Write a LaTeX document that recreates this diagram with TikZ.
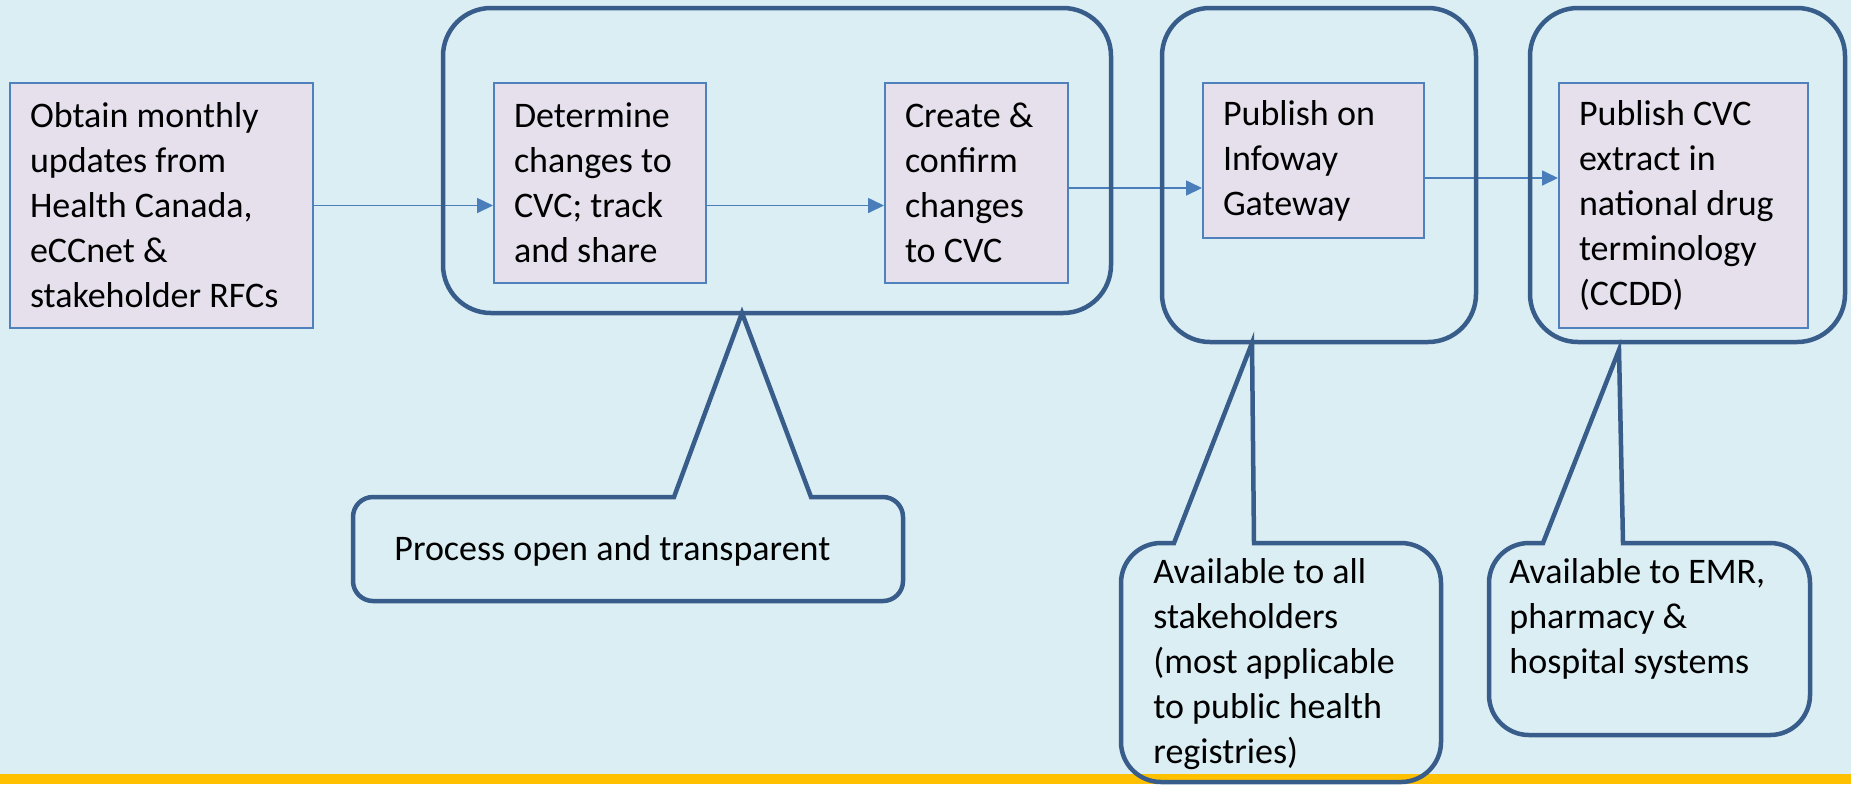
\documentclass[tikz,border=0pt]{standalone}
\usepackage{fontspec}
\setmainfont{Carlito}
\usetikzlibrary{arrows.meta}
\definecolor{bgc}{HTML}{DBEEF4}
\definecolor{boxfill}{HTML}{E5E0EC}
\definecolor{boxline}{HTML}{4F81BD}
\definecolor{grpline}{HTML}{385D8A}
\definecolor{arrc}{HTML}{4A7EBB}
\definecolor{barc}{HTML}{FFC000}
\begin{document}
\begin{tikzpicture}[x=0.5pt,y=0.5pt,
  stepbox/.style={draw=boxline, line width=1pt, fill=boxfill, rectangle, inner xsep=10pt, inner ysep=0pt, align=flush left, font=\fontsize{18}{22.5}\selectfont},
  grp/.style={draw=grpline, line width=2.25pt, rounded corners=24pt, rectangle, inner sep=0pt},
  flow/.style={draw=arrc, line width=0.85pt, -{Triangle[length=8pt,width=7.5pt]}},
  callout/.style={draw=grpline, line width=2.25pt, line join=miter},
  ctext/.style={inner sep=0pt, align=left, anchor=north west, font=\fontsize{18}{22.5}\selectfont}
]
\fill[bgc] (0,0) rectangle (1851,-784);
\useasboundingbox (0,0) rectangle (1851,-784);

% process boxes
\node[stepbox, text width=131.5pt, minimum height=122.5pt] (b1) at (161.5,-205.5) {Obtain monthly\\updates from\\Health Canada,\\eCCnet \&\\stakeholder RFCs};
\node[stepbox, text width=86pt, minimum height=100pt] (b2) at (600,-183) {Determine\\changes to\\CVC; track\\and share};
\node[stepbox, text width=71.5pt, minimum height=100pt] (b3) at (976.5,-183) {Create \&\\confirm\\changes\\to CVC};
\node[stepbox, text width=90.5pt, minimum height=77.5pt] (b4) at (1313.5,-160.5) {Publish on\\Infoway\\Gateway};
\node[stepbox, text width=104.5pt, minimum height=122.5pt] (b5) at (1683.5,-205.5) {Publish CVC\\extract in\\national drug\\terminology\\(CCDD)};

% connectors
\draw[flow] (b1.east) -- (b1.east -| b2.west);
\draw[flow] (b2.east |- b1.east) -- (b3.west |- b1.east);
\draw[flow] ([yshift=-2.5pt]b3.east) -- ([yshift=-2.5pt]b3.east -| b4.west);
\draw[flow] ([yshift=-8.75pt]b4.east) -- ([yshift=-8.75pt]b4.east -| b5.west);

% groups
\node[grp, minimum width=334pt, minimum height=152.5pt] (g1) at (777,-160.5) {};
\node[grp, minimum width=157pt, minimum height=167pt] (g2) at (1319,-175) {};
\node[grp, minimum width=157.5pt, minimum height=167pt] (g3) at (1687.5,-175) {};

% bottom bar
\fill[barc] (0,-774) rectangle (1851,-784);

% callouts
\draw[callout] (674,-497) -- (742,-313) -- (811,-497) -- (883,-497)
  arc[start angle=90,end angle=0,radius=20] -- (903,-581)
  arc[start angle=0,end angle=-90,radius=20] -- (373,-601)
  arc[start angle=270,end angle=180,radius=20] -- (353,-517)
  arc[start angle=180,end angle=90,radius=20] -- cycle;
\draw[callout] (1174,-543) -- (1252,-343) -- (1254,-543) -- (1401,-543)
  arc[start angle=90,end angle=0,radius=40] -- (1441,-742)
  arc[start angle=0,end angle=-90,radius=40] -- (1161,-782)
  arc[start angle=270,end angle=180,radius=40] -- (1121,-583)
  arc[start angle=180,end angle=90,radius=40] -- cycle;
\draw[callout] (1543,-543) -- (1619,-350) -- (1623,-543) -- (1770,-543)
  arc[start angle=90,end angle=0,radius=40] -- (1810,-695)
  arc[start angle=0,end angle=-90,radius=40] -- (1529,-735)
  arc[start angle=270,end angle=180,radius=40] -- (1489,-583)
  arc[start angle=180,end angle=90,radius=40] -- cycle;

\node[ctext] (t1) at (394,-535) {Process open and transparent};
\node[ctext] (t2) at (1153,-558) {Available to all\\stakeholders\\(most applicable\\to public health\\registries)};
\node[ctext] (t3) at (1509,-558) {Available to EMR,\\pharmacy \&\\hospital systems};
\end{tikzpicture}
\end{document}
